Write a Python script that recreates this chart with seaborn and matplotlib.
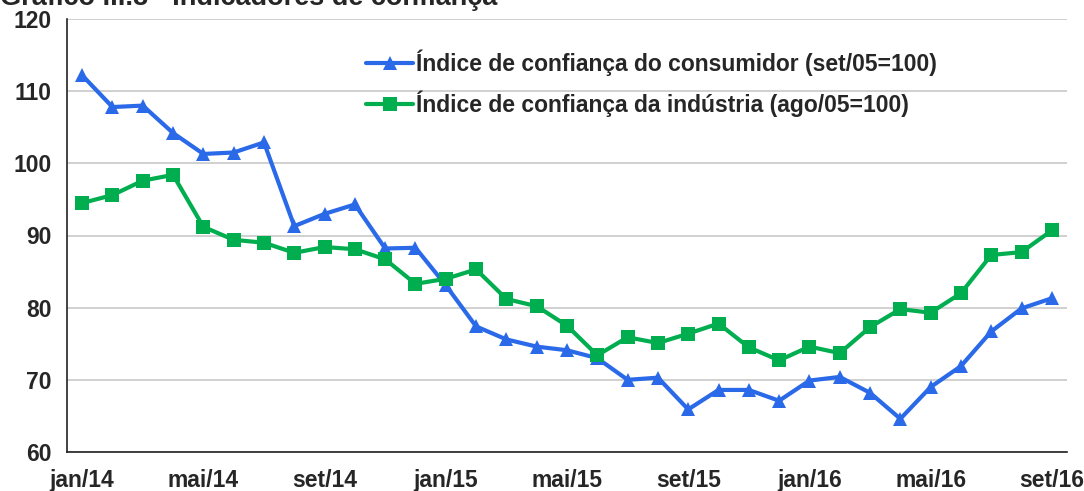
import numpy as np
import pandas as pd
import seaborn as sns
import matplotlib.pyplot as plt
from matplotlib.lines import Line2D

# months jan/14 .. set/16
meses = ['jan/14', 'fev/14', 'mar/14', 'abr/14', 'mai/14', 'jun/14', 'jul/14', 'ago/14',
         'set/14', 'out/14', 'nov/14', 'dez/14', 'jan/15', 'fev/15', 'mar/15', 'abr/15',
         'mai/15', 'jun/15', 'jul/15', 'ago/15', 'set/15', 'out/15', 'nov/15', 'dez/15',
         'jan/16', 'fev/16', 'mar/16', 'abr/16', 'mai/16', 'jun/16', 'jul/16', 'ago/16',
         'set/16']

consumidor = [112.2, 107.8, 108.0, 104.2, 101.3, 101.5, 102.9, 91.3, 93.0, 94.3, 88.2, 88.3,
              83.1, 77.4, 75.6, 74.6, 74.1, 73.0, 70.0, 70.3, 65.9, 68.6, 68.6, 67.1,
              69.9, 70.4, 68.2, 64.6, 69.0, 71.9, 76.7, 79.9, 81.3]

industria = [94.5, 95.6, 97.6, 98.4, 91.2, 89.4, 89.0, 87.6, 88.4, 88.1, 86.7, 83.3,
             84.0, 85.3, 81.2, 80.2, 77.5, 73.4, 75.9, 75.1, 76.4, 77.8, 74.5, 72.7,
             74.6, 73.7, 77.3, 79.8, 79.3, 82.0, 87.3, 87.7, 90.7]

lbl_cons = 'Índice de confiança do consumidor (set/05=100)'
lbl_ind = 'Índice de confiança da indústria (ago/05=100)'

df = pd.DataFrame({
    'mes': list(range(len(meses))) * 2,
    'valor': consumidor + industria,
    'serie': [lbl_cons] * len(meses) + [lbl_ind] * len(meses),
})

sns.set_style('white')
plt.rcParams['font.family'] = ['Liberation Sans', 'DejaVu Sans']
plt.rcParams['font.weight'] = 'bold'

azul = '#2A6AE8'
verde = '#00AE50'

fig = plt.figure(figsize=(10.84, 4.91), dpi=100)
ax = fig.add_axes([67 / 1084, 1 - 452 / 491, 1000 / 1084, 433 / 491])

sns.lineplot(data=df, x='mes', y='valor', hue='serie', style='serie',
             palette=[azul, verde], markers=['^', 's'], dashes=False,
             linewidth=3, markersize=10, markeredgewidth=0, ax=ax, legend=False)

ax.set_xlim(-0.5, len(meses) - 0.5)
ax.set_ylim(60, 120)
ax.set_yticks(range(60, 121, 10))
ax.yaxis.grid(True, color='#C4C4C4', linewidth=1.1)
ax.set_axisbelow(True)

# labels every 4 months at centres, tick marks at category boundaries
ax.set_xticks(range(0, len(meses), 4))
ax.set_xticklabels(meses[::4])
ax.set_xticks(np.arange(-0.5, len(meses) - 0.5, 4), minor=True)
ax.tick_params(axis='x', which='major', length=0, pad=12, labelsize=16.5)
ax.tick_params(axis='x', which='minor', length=6, width=1, color='#333333', direction='out')
ax.tick_params(axis='y', length=6, width=1, color='#333333', direction='out', pad=5, labelsize=16.5)
ax.set_xlabel('')
ax.set_ylabel('')

for s in ['top', 'right']:
    ax.spines[s].set_visible(False)
for s in ['left', 'bottom']:
    ax.spines[s].set_color('#222222')
    ax.spines[s].set_linewidth(1.2)

handles = [
    Line2D([], [], color=azul, lw=3, marker='^', ms=10, mew=0),
    Line2D([], [], color=verde, lw=3, marker='s', ms=10, mew=0),
]
ax.legend(handles, [lbl_cons, lbl_ind], loc='upper left', bbox_to_anchor=(0.29, 0.95),
          frameon=False, fontsize=16.5, handlelength=2.05, handletextpad=0.13,
          labelspacing=0.6, borderaxespad=0)

fig.text(0.0, 1 - 5 / 491, 'Gráfico III.8 - Indicadores de confiança', fontsize=19.5,
         fontweight='bold', va='baseline', ha='left')

fig.savefig('out.png', dpi=100)
